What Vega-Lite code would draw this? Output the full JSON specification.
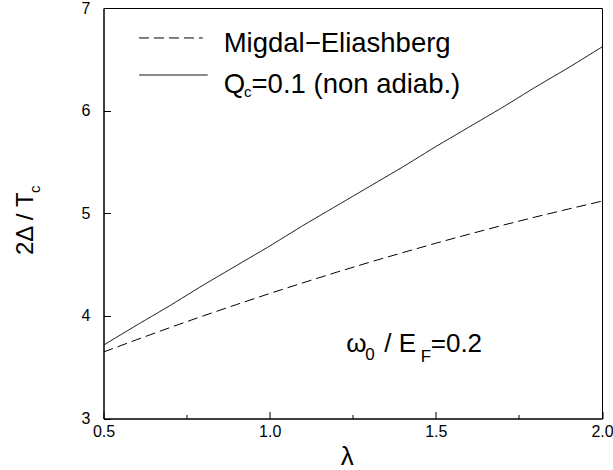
{
  "$schema": "https://vega.github.io/schema/vega-lite/v6.json",
  "autosize": {"type": "none"},
  "padding": {"left": 103.5, "top": 8, "right": 11, "bottom": 51.5},
  "width": 498.5,
  "height": 410.5,
  "background": "white",
  "config": {
    "view": {"stroke": "black", "strokeWidth": 1},
    "font": "Liberation Sans"
  },
  "datasets": {
    "curves": [
      {"lambda": 0.5, "ratio": 3.648, "series": "Migdal−Eliashberg"},
      {"lambda": 0.6, "ratio": 3.768, "series": "Migdal−Eliashberg"},
      {"lambda": 0.7, "ratio": 3.886, "series": "Migdal−Eliashberg"},
      {"lambda": 0.8, "ratio": 4.0, "series": "Migdal−Eliashberg"},
      {"lambda": 0.9, "ratio": 4.11, "series": "Migdal−Eliashberg"},
      {"lambda": 1.0, "ratio": 4.218, "series": "Migdal−Eliashberg"},
      {"lambda": 1.1, "ratio": 4.322, "series": "Migdal−Eliashberg"},
      {"lambda": 1.2, "ratio": 4.424, "series": "Migdal−Eliashberg"},
      {"lambda": 1.3, "ratio": 4.522, "series": "Migdal−Eliashberg"},
      {"lambda": 1.4, "ratio": 4.616, "series": "Migdal−Eliashberg"},
      {"lambda": 1.5, "ratio": 4.708, "series": "Migdal−Eliashberg"},
      {"lambda": 1.6, "ratio": 4.796, "series": "Migdal−Eliashberg"},
      {"lambda": 1.7, "ratio": 4.882, "series": "Migdal−Eliashberg"},
      {"lambda": 1.8, "ratio": 4.964, "series": "Migdal−Eliashberg"},
      {"lambda": 1.9, "ratio": 5.042, "series": "Migdal−Eliashberg"},
      {"lambda": 2.0, "ratio": 5.118, "series": "Migdal−Eliashberg"},
      {"lambda": 0.5, "ratio": 3.715, "series": "Qc=0.1 (non adiab.)"},
      {"lambda": 0.6, "ratio": 3.91, "series": "Qc=0.1 (non adiab.)"},
      {"lambda": 0.7, "ratio": 4.1, "series": "Qc=0.1 (non adiab.)"},
      {"lambda": 0.8, "ratio": 4.3, "series": "Qc=0.1 (non adiab.)"},
      {"lambda": 0.9, "ratio": 4.49, "series": "Qc=0.1 (non adiab.)"},
      {"lambda": 1.0, "ratio": 4.68, "series": "Qc=0.1 (non adiab.)"},
      {"lambda": 1.1, "ratio": 4.88, "series": "Qc=0.1 (non adiab.)"},
      {"lambda": 1.2, "ratio": 5.07, "series": "Qc=0.1 (non adiab.)"},
      {"lambda": 1.3, "ratio": 5.26, "series": "Qc=0.1 (non adiab.)"},
      {"lambda": 1.4, "ratio": 5.45, "series": "Qc=0.1 (non adiab.)"},
      {"lambda": 1.5, "ratio": 5.65, "series": "Qc=0.1 (non adiab.)"},
      {"lambda": 1.6, "ratio": 5.84, "series": "Qc=0.1 (non adiab.)"},
      {"lambda": 1.7, "ratio": 6.03, "series": "Qc=0.1 (non adiab.)"},
      {"lambda": 1.8, "ratio": 6.23, "series": "Qc=0.1 (non adiab.)"},
      {"lambda": 1.9, "ratio": 6.42, "series": "Qc=0.1 (non adiab.)"},
      {"lambda": 2.0, "ratio": 6.62, "series": "Qc=0.1 (non adiab.)"}
    ],
    "legendLines": [
      {"x1": 0.6067, "x2": 0.7986, "y": 6.708, "series": "Migdal−Eliashberg"},
      {"x1": 0.6075, "x2": 0.8135, "y": 6.347, "series": "Qc=0.1 (non adiab.)"}
    ],
    "legendText": [
      {"x": 0.8615, "y": 6.568, "t": "Migdal−Eliashberg"},
      {"x": 0.8615, "y": 6.174, "t": "Q"},
      {"x": 0.9455, "y": 6.174, "t": "=0.1 (non adiab.)"}
    ],
    "legendSub": [
      {"x": 0.923, "y": 6.128, "t": "c"}
    ],
    "annotMain": [
      {"x": 1.2305, "y": 3.647, "t": "ω"},
      {"x": 1.3446, "y": 3.647, "t": "/ E"},
      {"x": 1.4847, "y": 3.647, "t": "=0.2"}
    ],
    "annotSub": [
      {"x": 1.2876, "y": 3.569, "t": "0"},
      {"x": 1.4547, "y": 3.55, "t": "F"}
    ],
    "xTitle": [
      {"x": 1.2336, "y": 2.55, "t": "λ"}
    ],
    "yTitle": [
      {"x": 0.2885, "y": 4.593, "t": "2Δ / T"}
    ],
    "yTitleSub": [
      {"x": 0.3095, "y": 5.197, "t": "c"}
    ]
  },
  "layer": [
    {
      "data": {"name": "curves"},
      "mark": {"type": "line", "color": "black", "strokeWidth": 1, "clip": true},
      "encoding": {
        "x": {
          "field": "lambda", "type": "quantitative",
          "scale": {"domain": [0.5, 2.0], "nice": false, "zero": false},
          "axis": {
            "values": [0.5, 0.75, 1.0, 1.25, 1.5, 1.75, 2.0],
            "format": ".1f",
            "labelExpr": "(datum.value * 2) % 1 === 0 ? datum.label : ''",
            "grid": false,
            "domainColor": "black",
            "tickColor": "black",
            "tickSize": {"condition": {"test": "(datum.value * 2) % 1 === 0", "value": -7}, "value": -4},
            "labelFont": "Liberation Sans",
            "labelFontSize": 16,
            "labelColor": "black",
            "labelPadding": 11.5,
            "labelFlush": false,
            "labelOverlap": false,
            "title": null
          }
        },
        "y": {
          "field": "ratio", "type": "quantitative",
          "scale": {"domain": [3, 7], "nice": false, "zero": false},
          "axis": {
            "values": [3, 3.5, 4, 4.5, 5, 5.5, 6, 6.5, 7],
            "format": "d",
            "labelExpr": "datum.value % 1 === 0 ? datum.label : ''",
            "grid": false,
            "domainColor": "black",
            "tickColor": "black",
            "tickSize": {"condition": {"test": "datum.value % 1 === 0", "value": -7}, "value": -4},
            "labelFont": "Liberation Sans",
            "labelFontSize": 16,
            "labelColor": "black",
            "labelPadding": 20.5,
            "labelFlush": false,
            "labelOverlap": false,
            "title": null
          }
        },
        "strokeDash": {
          "field": "series", "type": "nominal",
          "scale": {"domain": ["Migdal−Eliashberg", "Qc=0.1 (non adiab.)"], "range": [[10, 5], [1, 0]]},
          "legend": null
        }
      }
    },
    {
      "data": {"name": "legendLines"},
      "mark": {"type": "rule", "color": "black", "strokeWidth": 1},
      "encoding": {
        "x": {"field": "x1", "type": "quantitative"},
        "x2": {"field": "x2"},
        "y": {"field": "y", "type": "quantitative"},
        "strokeDash": {"field": "series", "type": "nominal", "legend": null}
      }
    },
    {
      "data": {"name": "legendText"},
      "mark": {"type": "text", "font": "Liberation Sans", "fontSize": 27.5, "align": "left", "baseline": "alphabetic", "color": "black"},
      "encoding": {
        "x": {"field": "x", "type": "quantitative"},
        "y": {"field": "y", "type": "quantitative"},
        "text": {"field": "t"}
      }
    },
    {
      "data": {"name": "legendSub"},
      "mark": {"type": "text", "font": "Liberation Sans", "fontSize": 15, "align": "left", "baseline": "alphabetic", "color": "black"},
      "encoding": {
        "x": {"field": "x", "type": "quantitative"},
        "y": {"field": "y", "type": "quantitative"},
        "text": {"field": "t"}
      }
    },
    {
      "data": {"name": "annotMain"},
      "mark": {"type": "text", "font": "Liberation Sans", "fontSize": 26, "align": "left", "baseline": "alphabetic", "color": "black"},
      "encoding": {
        "x": {"field": "x", "type": "quantitative"},
        "y": {"field": "y", "type": "quantitative"},
        "text": {"field": "t"}
      }
    },
    {
      "data": {"name": "annotSub"},
      "mark": {"type": "text", "font": "Liberation Sans", "fontSize": 17, "align": "left", "baseline": "alphabetic", "color": "black"},
      "encoding": {
        "x": {"field": "x", "type": "quantitative"},
        "y": {"field": "y", "type": "quantitative"},
        "text": {"field": "t"}
      }
    },
    {
      "data": {"name": "xTitle"},
      "mark": {"type": "text", "font": "Liberation Sans", "fontSize": 26, "align": "center", "baseline": "alphabetic", "color": "black"},
      "encoding": {
        "x": {"field": "x", "type": "quantitative"},
        "y": {"field": "y", "type": "quantitative"},
        "text": {"field": "t"}
      }
    },
    {
      "data": {"name": "yTitle"},
      "mark": {"type": "text", "font": "Liberation Sans", "fontSize": 24, "align": "left", "baseline": "alphabetic", "angle": 270, "color": "black"},
      "encoding": {
        "x": {"field": "x", "type": "quantitative"},
        "y": {"field": "y", "type": "quantitative"},
        "text": {"field": "t"}
      }
    },
    {
      "data": {"name": "yTitleSub"},
      "mark": {"type": "text", "font": "Liberation Sans", "fontSize": 15, "align": "left", "baseline": "alphabetic", "angle": 270, "color": "black"},
      "encoding": {
        "x": {"field": "x", "type": "quantitative"},
        "y": {"field": "y", "type": "quantitative"},
        "text": {"field": "t"}
      }
    }
  ]
}
